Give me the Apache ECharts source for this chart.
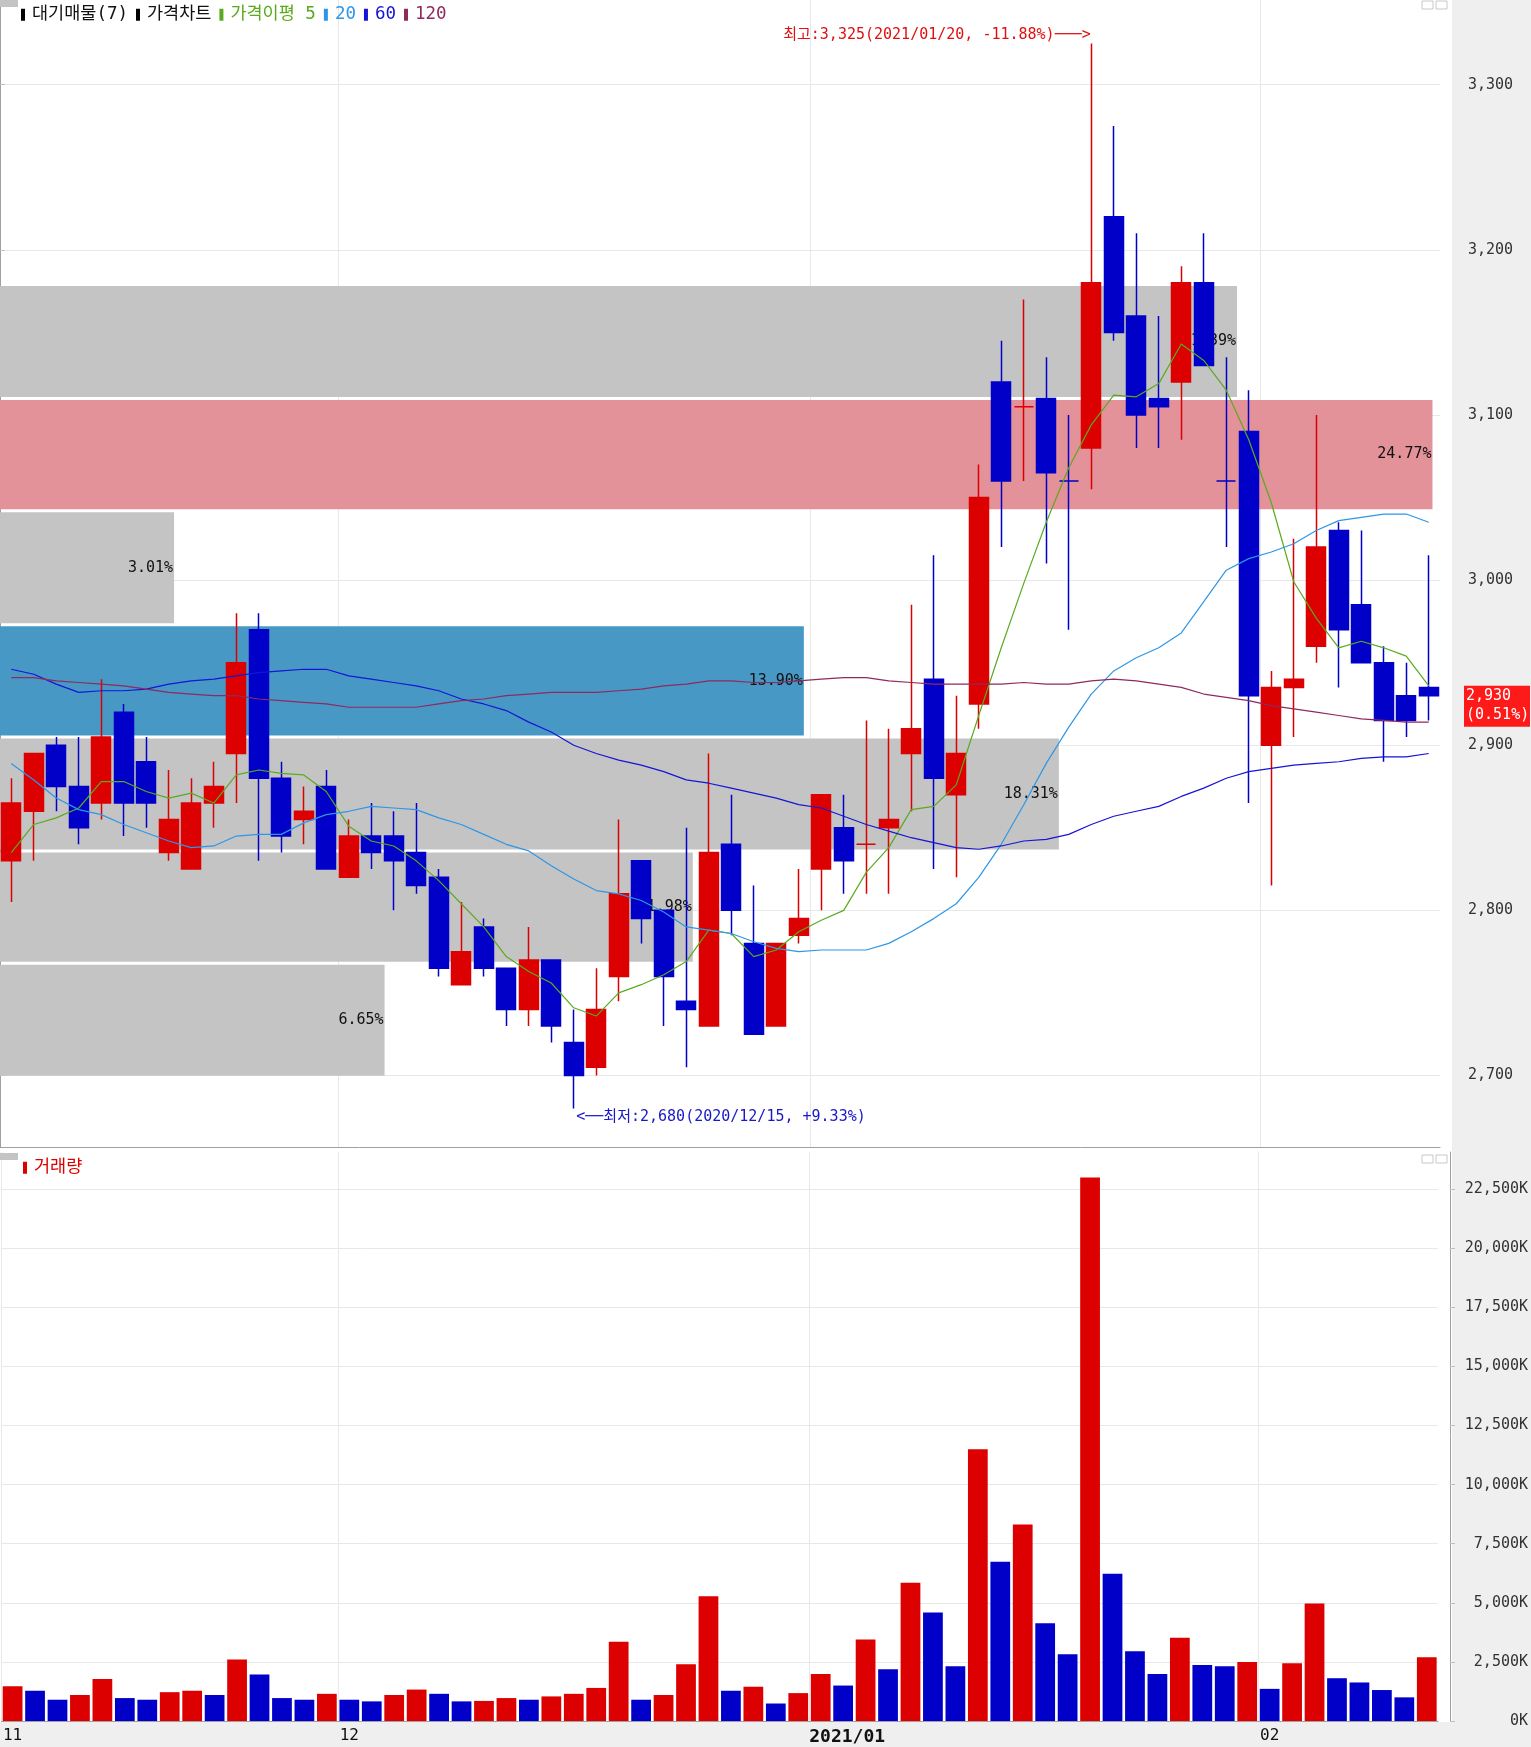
<!DOCTYPE html>
<html>
<head>
<meta charset="utf-8">
<title>대기매물 가격차트</title>
<script src="https://cdn.jsdelivr.net/npm/echarts@6.0.0/dist/echarts.min.js"></script>
<style>
  html, body { margin: 0; padding: 0; background: #fff; }
  #main { width: 1531px; height: 1747px; }
</style>
</head>
<body>
<div id="main"></div>
<script type="text/javascript">
// 일자 (2020/11/10 ~ 2021/02/10)
var dates = [
  '2020/11/10','2020/11/11','2020/11/12','2020/11/13','2020/11/16','2020/11/17','2020/11/18','2020/11/19','2020/11/20','2020/11/23',
  '2020/11/24','2020/11/25','2020/11/26','2020/11/27','2020/11/30','2020/12/01','2020/12/02','2020/12/03','2020/12/04','2020/12/07',
  '2020/12/08','2020/12/09','2020/12/10','2020/12/11','2020/12/14','2020/12/15','2020/12/16','2020/12/17','2020/12/18','2020/12/21',
  '2020/12/22','2020/12/23','2020/12/24','2020/12/28','2020/12/29','2020/12/30','2021/01/04','2021/01/05','2021/01/06','2021/01/07',
  '2021/01/08','2021/01/11','2021/01/12','2021/01/13','2021/01/14','2021/01/15','2021/01/18','2021/01/19','2021/01/20','2021/01/21',
  '2021/01/22','2021/01/25','2021/01/26','2021/01/27','2021/01/28','2021/01/29','2021/02/01','2021/02/02','2021/02/03','2021/02/04',
  '2021/02/05','2021/02/08','2021/02/09','2021/02/10'
];
// 시가 / 종가 / 저가 / 고가
var openP = [2830,2860,2900,2875,2865,2920,2890,2835,2825,2865, 2895,2970,2880,2855,2875,2820,2845,2845,2835,2820,
             2755,2790,2765,2740,2770,2720,2705,2760,2830,2800, 2745,2730,2840,2780,2730,2785,2825,2850,2840,2850,
             2895,2940,2870,2925,3120,3105,3110,3060,3080,3220, 3160,3110,3120,3180,3060,3090,2900,2935,2960,3030,
             2985,2950,2930,2935];
var closeP = [2865,2895,2875,2850,2905,2865,2865,2855,2865,2875, 2950,2880,2845,2860,2825,2845,2835,2830,2815,2765,
              2775,2765,2740,2770,2730,2700,2740,2810,2795,2760, 2740,2835,2800,2725,2780,2795,2870,2830,2840,2855,
              2910,2880,2895,3050,3060,3105,3065,3060,3180,3150, 3100,3105,3180,3130,3060,2930,2935,2940,3020,2970,
              2950,2915,2915,2930];
var lowP = [2805,2830,2860,2840,2855,2845,2850,2830,2825,2850, 2865,2830,2835,2840,2825,2820,2825,2800,2810,2760,
            2755,2760,2730,2730,2720,2680,2700,2745,2780,2730, 2705,2730,2785,2725,2730,2780,2800,2810,2810,2810,
            2860,2825,2820,2910,3020,3060,3010,2970,3055,3145, 3080,3080,3085,3130,3020,2865,2815,2905,2950,2935,
            2950,2890,2905,2915];
var highP = [2880,2895,2905,2905,2940,2925,2905,2885,2880,2890, 2980,2980,2890,2875,2885,2855,2865,2860,2865,2825,
             2805,2795,2765,2790,2770,2740,2765,2855,2830,2800, 2850,2895,2870,2815,2780,2825,2870,2870,2915,2910,
             2985,3015,2930,3070,3145,3170,3135,3100,3325,3275, 3210,3160,3190,3210,3135,3115,2945,3025,3100,3035,
             3030,2960,2950,3015];
// 거래량 (K)
var volume = [1470,1280,900,1100,1780,970,900,1220,1280,1100, 2600,1970,970,900,1150,900,830,1100,1330,1150,
              830,850,970,900,1040,1150,1400,3350,900,1100, 2400,5280,1280,1450,740,1180,1990,1500,3450,2190,
              5850,4590,2320,11500,6740,8310,4140,2820,23000,6230, 2950,1990,3520,2370,2320,2500,1360,2440,4970,1810,
              1630,1310,1000,2700];
// 가격이평 5 / 20 / 60 / 120
var ma5 = [2835,2852,2856,2862,2878,2878,2872,2868,2871,2865, 2882,2885,2883,2882,2872,2851,2842,2839,2830,2818,
           2804,2790,2772,2763,2756,2741,2736,2750,2755,2761, 2769,2788,2786,2772,2776,2787,2794,2800,2823,2838,
           2861,2863,2876,2918,2959,2998,3035,3068,3094,3112, 3111,3119,3143,3133,3115,3085,3047,2999,2977,2959,
           2963,2959,2954,2936];
var ma20 = [2889,2879,2868,2861,2858,2852,2847,2842,2838,2839, 2845,2846,2846,2853,2858,2860,2863,2862,2861,2856,
            2852,2846,2840,2836,2827,2819,2812,2810,2806,2799, 2790,2788,2786,2781,2777,2775,2776,2776,2776,2780,
            2787,2795,2804,2820,2840,2864,2889,2911,2931,2945, 2953,2959,2968,2987,3006,3013,3017,3022,3030,3036,
            3038,3040,3040,3035];
var ma60 = [2946,2943,2937,2932,2933,2933,2934,2937,2939,2940, 2942,2944,2945,2946,2946,2942,2940,2938,2936,2933,
            2928,2925,2921,2914,2908,2900,2895,2891,2888,2884, 2879,2877,2874,2871,2868,2864,2862,2857,2852,2848,
            2844,2841,2838,2837,2839,2842,2843,2846,2852,2857, 2860,2863,2869,2874,2880,2884,2886,2888,2889,2890,
            2892,2893,2893,2895];
var ma120 = [2941,2941,2939,2938,2937,2936,2934,2932,2931,2930, 2930,2928,2927,2926,2925,2923,2923,2923,2923,2925,
             2927,2928,2930,2931,2932,2932,2932,2933,2934,2936, 2937,2939,2939,2938,2938,2939,2940,2941,2941,2939,
             2938,2937,2937,2937,2937,2938,2937,2937,2939,2940, 2939,2937,2935,2931,2929,2927,2924,2922,2920,2918,
             2916,2915,2914,2914];
// 대기매물(7): 가격대 경계와 비율(%)
var bandEdges = [2699, 2768, 2836, 2905, 2973, 3042, 3110, 3179];
var bandPct = [6.65, 11.98, 18.31, 13.90, 3.01, 24.77, 21.39];
// x축 월 표시
var monthIdx = [0, 15, 36, 56];
var monthText = ['11', '12', '2021/01', '02'];

var UP = '#dc0000', DOWN = '#0000c8';
var MONO = '"DejaVu Sans Mono", "Noto Sans CJK KR", monospace';
var GRID_LINE = '#e8e8e8';
var n = dates.length;
var lastClose = closeP[n - 1];
var prevClose = closeP[n - 2];

var kData = dates.map(function (d, i) { return [openP[i], closeP[i], lowP[i], highP[i]]; });
var bandData = bandPct.map(function (p, i) { return [bandEdges[i], bandEdges[i + 1], p]; });
var monthData = monthIdx.map(function (i) { return [i, 0]; });
var maxBand = bandPct.indexOf(Math.max.apply(null, bandPct));

var hiVal = Math.max.apply(null, highP), hiIdx = highP.indexOf(hiVal);
var loVal = Math.min.apply(null, lowP), loIdx = lowP.indexOf(loVal);
function pctFrom(v) {
  var p = (lastClose / v - 1) * 100;
  return (p > 0 ? '+' : '') + p.toFixed(2) + '%';
}
function fmt(v) { return Math.round(v).toLocaleString('en-US'); }
function isMonth(i) { return monthIdx.indexOf(i) >= 0; }

function bandFill(i) {
  if (i === maxBand) return '#e3929a';
  if (lastClose >= bandEdges[i] && lastClose < bandEdges[i + 1]) return '#4898c6';
  return '#c4c4c4';
}

function renderBand(params, api) {
  var i = params.dataIndex;
  var lo = api.value(0), hi = api.value(1), pct = api.value(2);
  var tl = api.coord([0, hi]);
  var br = api.coord([pct, lo]);
  var y0 = tl[1] + 1.5, y1 = br[1] - 1.5;
  return {
    type: 'group',
    children: [
      { type: 'rect', shape: { x: tl[0], y: y0, width: br[0] - tl[0], height: y1 - y0 },
        style: { fill: bandFill(i) } },
      { type: 'text', style: { text: pct.toFixed(2) + '%', x: br[0] - 1, y: (y0 + y1) / 2,
        align: 'right', verticalAlign: 'middle', font: '15px "DejaVu Sans Mono"', fill: '#111' } }
    ]
  };
}

// 월 경계 세로선 (카테고리 왼쪽 경계)
function renderMonthLine(params, api) {
  var cs = params.coordSys;
  var x = Math.round(api.coord([api.value(0), api.value(1)])[0] - api.size([1, 0])[0] / 2) + 0.5;
  return { type: 'line', shape: { x1: x, y1: cs.y, x2: x, y2: cs.y + cs.height },
    style: { stroke: GRID_LINE, lineWidth: 1 } };
}

function legendItem(name, color) {
  return { name: name, itemStyle: { color: color, borderColor: color, borderWidth: 0 },
    textStyle: { color: color === '#000' ? '#111' : color } };
}

var myChart = echarts.init(document.getElementById('main'));

var gridLine = { color: GRID_LINE, width: 1 };
var legendText = { fontFamily: MONO, fontSize: 17.5, padding: [0, 0, 0, 2] };

var option = {
  animation: false,
  backgroundColor: '#fff',
  legend: [{
    left: 16, top: 1, icon: 'rect', itemWidth: 4, itemHeight: 12, itemGap: 8, selectedMode: false,
    textStyle: Object.assign({ color: '#111' }, legendText),
    data: [
      legendItem('대기매물(7)', '#000'),
      legendItem('가격차트', '#000'),
      legendItem('가격이평 5', '#5aaa1e'),
      legendItem('20', '#2e96e6'),
      legendItem('60', '#1515d5'),
      legendItem('120', '#8e2a5c')
    ]
  }, {
    left: 18, top: 1154, icon: 'rect', itemWidth: 4, itemHeight: 12, selectedMode: false,
    textStyle: Object.assign({ color: '#dc0000' }, legendText),
    data: [legendItem('거래량', '#dc0000')]
  }],
  grid: [
    { left: -1, top: 0, width: 1441, height: 1147 },
    { left: -1, top: 1152, width: 1441, height: 569 }
  ],
  xAxis: [
    { type: 'category', gridIndex: 0, data: dates, boundaryGap: true,
      axisLine: { show: true, lineStyle: { color: '#a0a0a0' } },
      axisTick: { show: false }, axisLabel: { show: false }, splitLine: { show: false } },
    { type: 'category', gridIndex: 1, data: dates, boundaryGap: true,
      axisLine: { show: true, lineStyle: { color: '#a0a0a0' } },
      axisTick: { show: false }, splitLine: { show: false },
      axisLabel: {
        interval: isMonth, margin: 7, fontFamily: MONO, fontSize: 16, color: '#111',
        formatter: function (v, i) {
          var k = monthIdx.indexOf(i);
          if (k < 0) return '';
          var t = monthText[k];
          return t.length > 2 ? '{b|' + t + '}' : t;
        },
        rich: { b: { fontFamily: MONO, fontSize: 18, fontWeight: 'bold', color: '#111', padding: [0, 0, 0, 53] } }
      } },
    { type: 'value', gridIndex: 0, min: 0, max: 24.9, show: false }
  ],
  yAxis: [
    { type: 'value', gridIndex: 0, position: 'right', offset: 12, min: 2656.7, max: 3351.3, splitNumber: 7,
      axisLine: { show: true, lineStyle: { color: '#a0a0a0' } },
      axisTick: { show: true, length: 5, lineStyle: { color: '#c0c0c0' } },
      axisLabel: { margin: 16, fontFamily: MONO, fontSize: 15, color: '#333',
        showMinLabel: false, showMaxLabel: false, formatter: fmt },
      splitLine: { show: true, showMinLine: false, showMaxLine: false, lineStyle: gridLine } },
    { type: 'value', gridIndex: 1, position: 'right', offset: 12, min: 0, max: 24074, interval: 2500,
      axisLine: { show: true, lineStyle: { color: '#a0a0a0' } },
      axisTick: { show: true, length: 5, lineStyle: { color: '#c0c0c0' } },
      axisLabel: { margin: 78, align: 'right', fontFamily: MONO, fontSize: 15, color: '#333',
        showMaxLabel: false, formatter: function (v) { return fmt(v) + 'K'; } },
      splitLine: { show: true, showMaxLine: false, lineStyle: gridLine } }
  ],
  series: [
    { name: 'monthLinePrice', type: 'custom', xAxisIndex: 0, yAxisIndex: 0, z: 0, silent: true,
      renderItem: renderMonthLine, encode: { x: 0, y: 1 }, data: monthData },
    { name: 'monthLineVolume', type: 'custom', xAxisIndex: 1, yAxisIndex: 1, z: 0, silent: true,
      renderItem: renderMonthLine, encode: { x: 0, y: 1 }, data: monthData },
    { name: '대기매물(7)', type: 'custom', xAxisIndex: 2, yAxisIndex: 0, z: 1,
      itemStyle: { color: '#000' },
      renderItem: renderBand, encode: { x: 2, y: [0, 1] }, data: bandData, silent: true },
    { name: '가격차트', type: 'candlestick', xAxisIndex: 0, yAxisIndex: 0, z: 2,
      barWidth: '88%', data: kData,
      itemStyle: { color: UP, color0: DOWN, borderColor: UP, borderColor0: DOWN, borderWidth: 1.5 },
      emphasis: { disabled: true },
      markPoint: {
        symbol: 'circle', symbolSize: 1, itemStyle: { color: 'rgba(0,0,0,0)' }, silent: true,
        data: [
          { coord: [hiIdx, hiVal + 5],
            label: { show: true, position: 'left', distance: 0, fontFamily: MONO, fontSize: 15, color: '#e01010',
              formatter: '최고:' + fmt(hiVal) + '(' + dates[hiIdx] + ', ' + pctFrom(hiVal) + ')───>' } },
          { coord: [loIdx, loVal - 5],
            label: { show: true, position: 'right', distance: 2, fontFamily: MONO, fontSize: 15, color: '#1818c8',
              formatter: '<──최저:' + fmt(loVal) + '(' + dates[loIdx] + ', ' + pctFrom(loVal) + ')' } }
        ]
      } },
    { name: '가격이평 5', type: 'line', xAxisIndex: 0, yAxisIndex: 0, z: 3, data: ma5,
      symbol: 'none', lineStyle: { color: '#5aaa1e', width: 1.2 }, itemStyle: { color: '#5aaa1e' } },
    { name: '20', type: 'line', xAxisIndex: 0, yAxisIndex: 0, z: 3, data: ma20,
      symbol: 'none', lineStyle: { color: '#2e96e6', width: 1.2 }, itemStyle: { color: '#2e96e6' } },
    { name: '60', type: 'line', xAxisIndex: 0, yAxisIndex: 0, z: 3, data: ma60,
      symbol: 'none', lineStyle: { color: '#1515d5', width: 1.2 }, itemStyle: { color: '#1515d5' } },
    { name: '120', type: 'line', xAxisIndex: 0, yAxisIndex: 0, z: 3, data: ma120,
      symbol: 'none', lineStyle: { color: '#8e2a5c', width: 1.2 }, itemStyle: { color: '#8e2a5c' } },
    { name: '거래량', type: 'bar', xAxisIndex: 1, yAxisIndex: 1, barWidth: '88%', data: volume,
      emphasis: { disabled: true },
      itemStyle: { color: function (p) {
        var i = p.dataIndex;
        return (i === 0 || volume[i] >= volume[i - 1]) ? UP : DOWN;
      } } }
  ],
  graphic: [
    { id: 'bgRight', type: 'rect', z: -5, shape: { x: 1452, y: 0, width: 79, height: 1747 }, style: { fill: '#efefef' } },
    { id: 'bgBottom', type: 'rect', z: -5, shape: { x: 0, y: 1722, width: 1452, height: 25 }, style: { fill: '#efefef' } },
    { id: 'tl1', type: 'rect', z: 5, shape: { x: 0, y: 0, width: 18, height: 7 }, style: { fill: '#c4c4c4' } },
    { id: 'tl2', type: 'rect', z: 5, shape: { x: 0, y: 1153, width: 18, height: 7 }, style: { fill: '#c4c4c4' } },
    { id: 'ic1', type: 'rect', z: 5, shape: { x: 1422, y: 1, width: 11, height: 8 }, style: { fill: '#fff', stroke: '#c8c8c8' } },
    { id: 'ic2', type: 'rect', z: 5, shape: { x: 1436, y: 1, width: 11, height: 8 }, style: { fill: '#fff', stroke: '#c8c8c8' } },
    { id: 'ic3', type: 'rect', z: 5, shape: { x: 1422, y: 1155, width: 11, height: 8 }, style: { fill: '#fff', stroke: '#c8c8c8' } },
    { id: 'ic4', type: 'rect', z: 5, shape: { x: 1436, y: 1155, width: 11, height: 8 }, style: { fill: '#fff', stroke: '#c8c8c8' } }
  ]
};

myChart.setOption(option);

// 현재가 표시 (y축 위치는 차트 스케일에서 계산)
var py = myChart.convertToPixel({ yAxisIndex: 0 }, lastClose);
var chg = (lastClose - prevClose) / prevClose * 100;
myChart.setOption({
  graphic: [
    { id: 'curBox', type: 'rect', z: 50, shape: { x: 1464, y: py - 10, width: 66, height: 41 }, style: { fill: '#ff1a1a' } },
    { id: 'curTxt', type: 'text', z: 51, style: {
      x: 1466, y: py - 9, text: fmt(lastClose) + '\n(' + chg.toFixed(2) + '%)',
      font: '15px "DejaVu Sans Mono"', fill: '#fff', lineHeight: 19 } }
  ]
});
</script>
</body>
</html>
